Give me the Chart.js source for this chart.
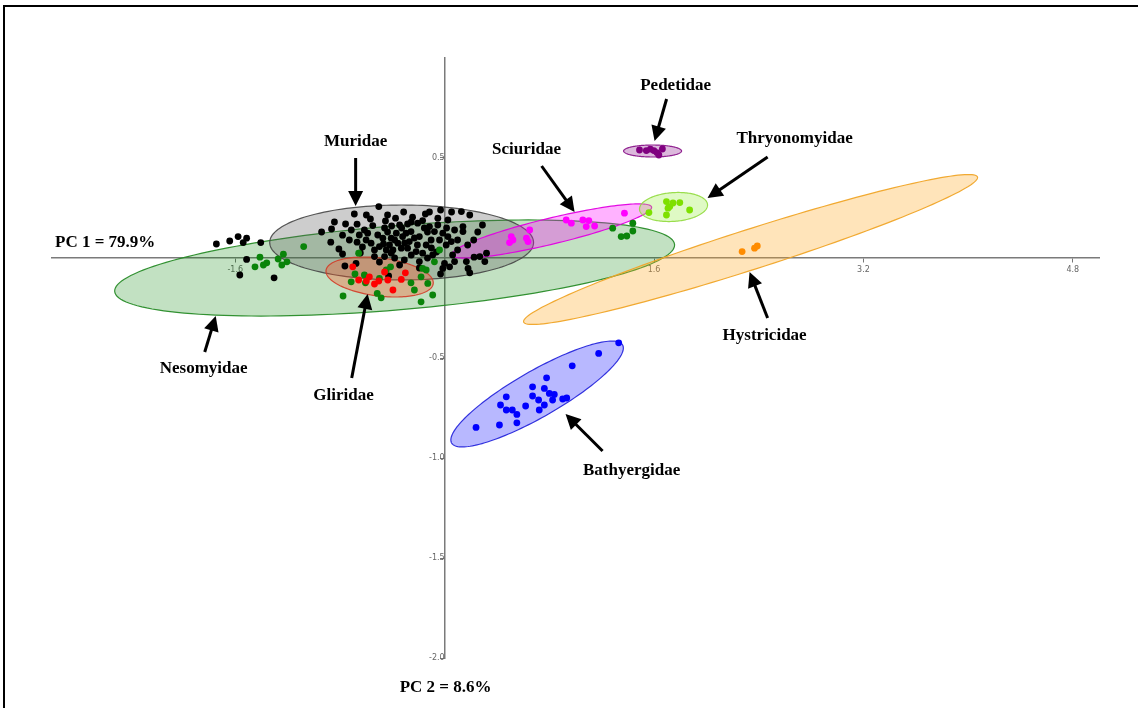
<!DOCTYPE html>
<html>
<head>
<meta charset="utf-8">
<title>PCA of rodent families</title>
<script src="https://cdn.jsdelivr.net/npm/chart.js@4.4.1/dist/chart.umd.min.js"></script>
<style>
  html, body { margin: 0; padding: 0; background: #fff; overflow: hidden; }
  #wrap { position: relative; width: 1138px; height: 708px; }
</style>
</head>
<body>
<div id="wrap"><canvas id="pca" width="1138" height="708"></canvas></div>
<script>
// ---- PC scores per family (PC1, PC2) ----
const muridaePC1 = [-1.744,-1.642,-1.578,-1.513,-1.539,-1.405,-1.513,-1.565,-1.303,-0.503,-0.757,-0.669,-0.549,-0.864,-0.613,-0.78,-0.87,-0.808,-0.669,-0.588,-0.6,-0.562,-0.511,-0.472,-0.498,-0.536,-0.446,-0.536,-0.459,-0.408,-0.677,-0.762,-0.428,-0.375,-0.344,-0.283,-0.245,-0.206,-0.168,-0.257,-0.295,-0.321,-0.369,-0.408,-0.421,-0.357,-0.395,-0.331,-0.283,-0.218,-0.27,-0.193,-0.141,-0.168,-0.103,-0.078,-0.116,-0.052,-0.052,0.025,-0.014,0.025,0.012,0.051,0.14,0.14,0.128,0.192,0.289,-0.091,-0.308,-0.193,-0.001,0.038,-0.014,0.076,0.179,0.166,0.225,0.269,0.307,0.192,0.32,-0.459,-0.436,-0.382,-0.328,-0.231,-0.208,-0.131,-0.101,-0.039,-0.467,-0.405,-0.305,-0.255,-0.155,-0.062,0.015,0.076,0.099,0.061,-0.131,-0.652,-0.728,-0.628,-0.713,-0.842,-0.94,-0.382,-0.344,-0.031,-0.193,0.099,-0.436,-0.313,-0.116,-0.031,0.053,-0.598,-0.69,-0.567,-0.452,-0.644,-0.78,0.222,0.253,0.176,-0.498,-0.255,-0.147];
const muridaePC2 = [0.07,0.085,0.107,0.099,0.077,0.077,-0.007,-0.085,-0.099,0.257,0.17,0.169,0.162,0.145,0.14,0.114,0.079,0.045,0.079,0.124,0.09,0.074,0.115,0.099,0.057,0.04,0.04,0.007,0.007,0.024,-0.027,-0.04,-0.09,0.199,0.165,0.17,0.204,0.174,0.187,0.132,0.124,0.107,0.124,0.099,0.065,0.074,0.04,0.049,0.049,0.032,0.082,0.107,0.065,0.024,0.09,0.132,0.157,0.165,0.199,0.19,0.124,0.107,0.065,0.082,0.132,0.157,0.232,0.215,0.165,0.015,-0.01,-0.018,-0.027,-0.044,-0.052,-0.018,-0.052,-0.018,0.004,0.007,-0.018,-0.074,0.024,0.15,0.13,0.09,0.15,0.1,0.065,0.13,0.05,0.09,0.07,0.16,0.075,0.015,0.15,0.03,0.15,0.14,0.04,0.015,0.0,0.115,0.09,0.055,0.14,0.18,0.13,0.0,-0.035,-0.08,-0.05,0.09,0.215,0.23,0.23,0.24,0.23,0.215,0.22,0.195,0.185,0.025,0.02,0.09,0.13,0.065,-0.02,0.18,0.22];

const nesomyidaePC1 = [-1.077,-1.232,-1.205,-1.244,-1.411,-1.359,-1.385,-1.449,-1.272,-0.657,-0.685,-0.714,-0.613,-0.605,-0.498,-0.446,-0.413,-0.776,-0.515,-0.485,-0.039,-0.078,-0.168,-0.141,-0.18,-0.257,-0.129,-0.231,-0.091,-0.18,1.284,1.349,1.392,1.438,1.438];
const nesomyidaePC2 = [0.057,0.019,-0.019,-0.035,0.004,-0.024,-0.035,-0.044,-0.005,0.024,-0.08,-0.119,-0.085,-0.124,-0.102,-0.06,-0.044,-0.19,-0.177,-0.199,0.04,-0.019,-0.052,-0.06,-0.094,-0.124,-0.127,-0.16,-0.185,-0.219,0.149,0.107,0.11,0.135,0.174];

const gliridaePC1 = [-0.702,-0.657,-0.575,-0.503,-0.434,-0.395,-0.3,-0.331,-0.459,-0.536,-0.598];
const gliridaePC2 = [-0.044,-0.11,-0.094,-0.115,-0.11,-0.16,-0.074,-0.107,-0.07,-0.13,-0.115];

const sciuridaePC1 = [0.496,0.522,0.509,0.625,0.637,0.65,0.929,0.968,1.056,1.102,1.082,1.146,1.374];
const sciuridaePC2 = [0.077,0.09,0.107,0.099,0.082,0.14,0.19,0.174,0.19,0.187,0.157,0.16,0.224];

const pedetidaePC1 = [1.489,1.541,1.572,1.599,1.622,1.637,1.664];
const pedetidaePC2 = [0.54,0.537,0.544,0.537,0.527,0.515,0.545];

const thryonomyidaePC1 = [1.561,1.695,1.72,1.707,1.745,1.797,1.872,1.695];
const thryonomyidaePC2 = [0.227,0.282,0.257,0.249,0.275,0.277,0.24,0.215];

const hystricidaePC1 = [2.273,2.368,2.389];
const hystricidaePC2 = [0.032,0.049,0.06];

const bathyergidaePC1 = [1.33,1.177,0.975,0.779,0.672,0.762,0.8,0.838,0.825,0.902,0.933,0.672,0.718,0.762,0.723,0.619,0.471,0.427,0.471,0.517,0.552,0.552,0.419,0.24];
const bathyergidaePC2 = [-0.424,-0.477,-0.539,-0.599,-0.644,-0.652,-0.677,-0.682,-0.71,-0.705,-0.7,-0.69,-0.71,-0.735,-0.76,-0.74,-0.694,-0.735,-0.76,-0.76,-0.782,-0.824,-0.835,-0.847];

// ---- family names and their 95% ellipses (centre + two conjugate semi-axes, PC units) ----
const families    = ['Nesomyidae','Muridae','Hystricidae','Gliridae','Sciuridae','Thryonomyidae','Pedetidae','Bathyergidae'];
const ellipseCx   = [-0.382, -0.3285, 2.3377, -0.4966, 0.8174, 1.749, 1.589, 0.7066];
const ellipseCy   = [-0.05, 0.0775, 0.0425, -0.095, 0.135, 0.255, 0.535, -0.68];
const ellipseUx   = [2.139, 1.008, 1.734, 0.4095, 0.764, 0.26, 0.2215, 0.6532];
const ellipseUy   = [0.1175, 0, 0.3625, -0.033, 0.12, 0.01, 0, 0.245];
const ellipseVx   = [0.0267, 0, 0.0466, -0.0176, 0.0232, 0, 0, 0.0871];
const ellipseVy   = [-0.2095, 0.1875, -0.0955, -0.0945, -0.0632, 0.072, 0.03, -0.1];

// ---- axis ticks ----
const xTickValues = [-1.6, 1.6, 3.2, 4.8];
const yTickValues = [0.5, -0.5, -1.0, -1.5, -2.0];
const axisTitles  = ['PC 1 = 79.9%', 'PC 2 = 8.6%'];

// ---- styling ----
const pointColors = {
  Muridae: '#000000', Nesomyidae: '#0a840a', Gliridae: '#ff0000', Sciuridae: '#ff00ff',
  Pedetidae: '#800080', Thryonomyidae: '#7ee000', Hystricidae: '#ff8c00', Bathyergidae: '#0000ff'
};
const ellipseStyles = {
  Nesomyidae:    { fill: 'rgba(0,128,0,0.24)',     stroke: 'rgba(40,140,40,0.95)' },
  Muridae:       { fill: 'rgba(90,90,90,0.30)',    stroke: 'rgba(70,70,70,0.9)' },
  Hystricidae:   { fill: 'rgba(255,170,40,0.32)',  stroke: 'rgba(240,165,40,0.95)' },
  Gliridae:      { fill: 'rgba(255,80,30,0.33)',   stroke: 'rgba(210,60,40,0.9)' },
  Sciuridae:     { fill: 'rgba(255,0,255,0.30)',   stroke: 'rgba(225,0,225,0.95)' },
  Thryonomyidae: { fill: 'rgba(150,240,60,0.30)',  stroke: 'rgba(150,220,70,0.95)' },
  Pedetidae:     { fill: 'rgba(128,0,128,0.28)',   stroke: 'rgba(128,0,128,0.85)' },
  Bathyergidae:  { fill: 'rgba(0,0,255,0.28)',     stroke: 'rgba(40,40,220,0.95)' }
};

// Labels with arrows, placed in PC coordinates: text position, arrow tail, arrow head
const callouts = [
  { text: 'Pedetidae',     at: [1.765, 0.86],   from: [1.696, 0.795],  to: [1.604, 0.585] },
  { text: 'Muridae',       at: [-0.68, 0.58],   from: [-0.68, 0.50],   to: [-0.68, 0.26] },
  { text: 'Sciuridae',     at: [0.626, 0.54],   from: [0.741, 0.46],   to: [0.993, 0.23] },
  { text: 'Thryonomyidae', at: [2.674, 0.595],  from: [2.468, 0.505],  to: [2.009, 0.30] },
  { text: 'Hystricidae',   at: [2.445, -0.39],  from: [2.468, -0.30],  to: [2.33, -0.07] },
  { text: 'Nesomyidae',    at: [-1.841, -0.555],from: [-1.833, -0.47], to: [-1.749, -0.29] },
  { text: 'Gliridae',      at: [-0.772, -0.69], from: [-0.71, -0.60],  to: [-0.588, -0.18] },
  { text: 'Bathyergidae',  at: [1.429, -1.065], from: [1.207, -0.965], to: [0.924, -0.78] }
];

function zip(xs, ys) { return xs.map((x, i) => ({ x: x, y: ys[i] })); }

// Datasets: later entries are painted first, so Muridae sits at the bottom.
const seriesOrder = [
  ['Bathyergidae', bathyergidaePC1, bathyergidaePC2],
  ['Hystricidae', hystricidaePC1, hystricidaePC2],
  ['Thryonomyidae', thryonomyidaePC1, thryonomyidaePC2],
  ['Pedetidae', pedetidaePC1, pedetidaePC2],
  ['Sciuridae', sciuridaePC1, sciuridaePC2],
  ['Gliridae', gliridaePC1, gliridaePC2],
  ['Nesomyidae', nesomyidaePC1, nesomyidaePC2],
  ['Muridae', muridaePC1, muridaePC2]
];

const datasets = seriesOrder.map(([name, xs, ys]) => ({
  label: name,
  data: zip(xs, ys),
  backgroundColor: pointColors[name],
  borderColor: pointColors[name],
  borderWidth: 0,
  pointRadius: 3.4,
  pointHoverRadius: 3.4
}));

// Confidence ellipses drawn beneath the points
const ellipsePlugin = {
  id: 'ellipses',
  beforeDatasetsDraw(chart) {
    const { ctx, scales: { x, y } } = chart;
    ctx.save();
    families.forEach((name, i) => {
      const st = ellipseStyles[name];
      ctx.beginPath();
      const n = 160;
      for (let k = 0; k <= n; k++) {
        const t = (k / n) * Math.PI * 2;
        const vx = ellipseCx[i] + ellipseUx[i] * Math.cos(t) + ellipseVx[i] * Math.sin(t);
        const vy = ellipseCy[i] + ellipseUy[i] * Math.cos(t) + ellipseVy[i] * Math.sin(t);
        const px = x.getPixelForValue(vx), py = y.getPixelForValue(vy);
        if (k === 0) ctx.moveTo(px, py); else ctx.lineTo(px, py);
      }
      ctx.closePath();
      ctx.fillStyle = st.fill;
      ctx.fill();
      ctx.lineWidth = 1.2;
      ctx.strokeStyle = st.stroke;
      ctx.stroke();
    });
    ctx.restore();
  }
};

function drawArrow(ctx, x1, y1, x2, y2) {
  const ang = Math.atan2(y2 - y1, x2 - x1);
  const headLen = 15, headHalf = 7.5;
  const bx = x2 - headLen * Math.cos(ang), by = y2 - headLen * Math.sin(ang);
  ctx.beginPath();
  ctx.moveTo(x1, y1);
  ctx.lineTo(bx + 2 * Math.cos(ang), by + 2 * Math.sin(ang));
  ctx.lineWidth = 3;
  ctx.strokeStyle = '#000';
  ctx.stroke();
  ctx.beginPath();
  ctx.moveTo(x2, y2);
  ctx.lineTo(bx + headHalf * Math.sin(ang), by - headHalf * Math.cos(ang));
  ctx.lineTo(bx - headHalf * Math.sin(ang), by + headHalf * Math.cos(ang));
  ctx.closePath();
  ctx.fillStyle = '#000';
  ctx.fill();
}

// Family callouts, axis titles and the outer frame
const annotationPlugin = {
  id: 'callouts',
  afterDraw(chart) {
    const { ctx, scales: { x, y }, chartArea } = chart;
    ctx.save();
    ctx.font = 'bold 17px "Liberation Serif", "Times New Roman", serif';
    ctx.fillStyle = '#000';
    ctx.textAlign = 'center';
    ctx.textBaseline = 'middle';
    callouts.forEach(c => {
      ctx.fillText(c.text, x.getPixelForValue(c.at[0]), y.getPixelForValue(c.at[1]));
      drawArrow(ctx,
        x.getPixelForValue(c.from[0]), y.getPixelForValue(c.from[1]),
        x.getPixelForValue(c.to[0]), y.getPixelForValue(c.to[1]));
    });

    // axis titles
    const y0 = y.getPixelForValue(0);
    const x0 = x.getPixelForValue(0);
    ctx.textAlign = 'left';
    ctx.fillText(axisTitles[0], chartArea.left + 3, y0 - 15);
    ctx.textAlign = 'center';
    ctx.fillText(axisTitles[1], x0 + 1, chartArea.bottom + 30);

    // frame
    ctx.fillStyle = '#000';
    ctx.fillRect(3, 5, chart.width, 2);
    ctx.fillRect(3, 5, 2, chart.height);
    ctx.restore();
  }
};

new Chart(document.getElementById('pca'), {
  type: 'scatter',
  data: { datasets },
  options: {
    responsive: false,
    animation: false,
    events: [],
    layout: { padding: { left: 52, right: 39, top: 58, bottom: 50 } },
    plugins: { legend: { display: false }, tooltip: { enabled: false } },
    scales: {
      x: {
        type: 'linear',
        position: { y: 0 },
        min: -3, max: 5,
        afterBuildTicks: s => { s.ticks = xTickValues.map(v => ({ value: v })); },
        ticks: {
          autoSkip: false, maxRotation: 0, padding: 3,
          color: '#666', font: { size: 8, family: 'DejaVu Sans' },
          callback: v => Number(v).toFixed(1)
        },
        grid: { drawOnChartArea: false, drawTicks: true, tickLength: 4, color: '#777', lineWidth: 1 },
        border: { display: true, color: '#7a7a7a', width: 1.5 }
      },
      y: {
        type: 'linear',
        position: { x: 0 },
        min: -2, max: 1,
        afterBuildTicks: s => { s.ticks = yTickValues.map(v => ({ value: v })); },
        ticks: {
          autoSkip: false, padding: 2,
          color: '#666', font: { size: 8, family: 'DejaVu Sans' },
          callback: v => Number(v).toFixed(1)
        },
        grid: { drawOnChartArea: false, drawTicks: true, tickLength: 4, color: '#777', lineWidth: 1 },
        border: { display: true, color: '#7a7a7a', width: 1.5 }
      }
    }
  },
  plugins: [ellipsePlugin, annotationPlugin]
});
</script>
</body>
</html>
